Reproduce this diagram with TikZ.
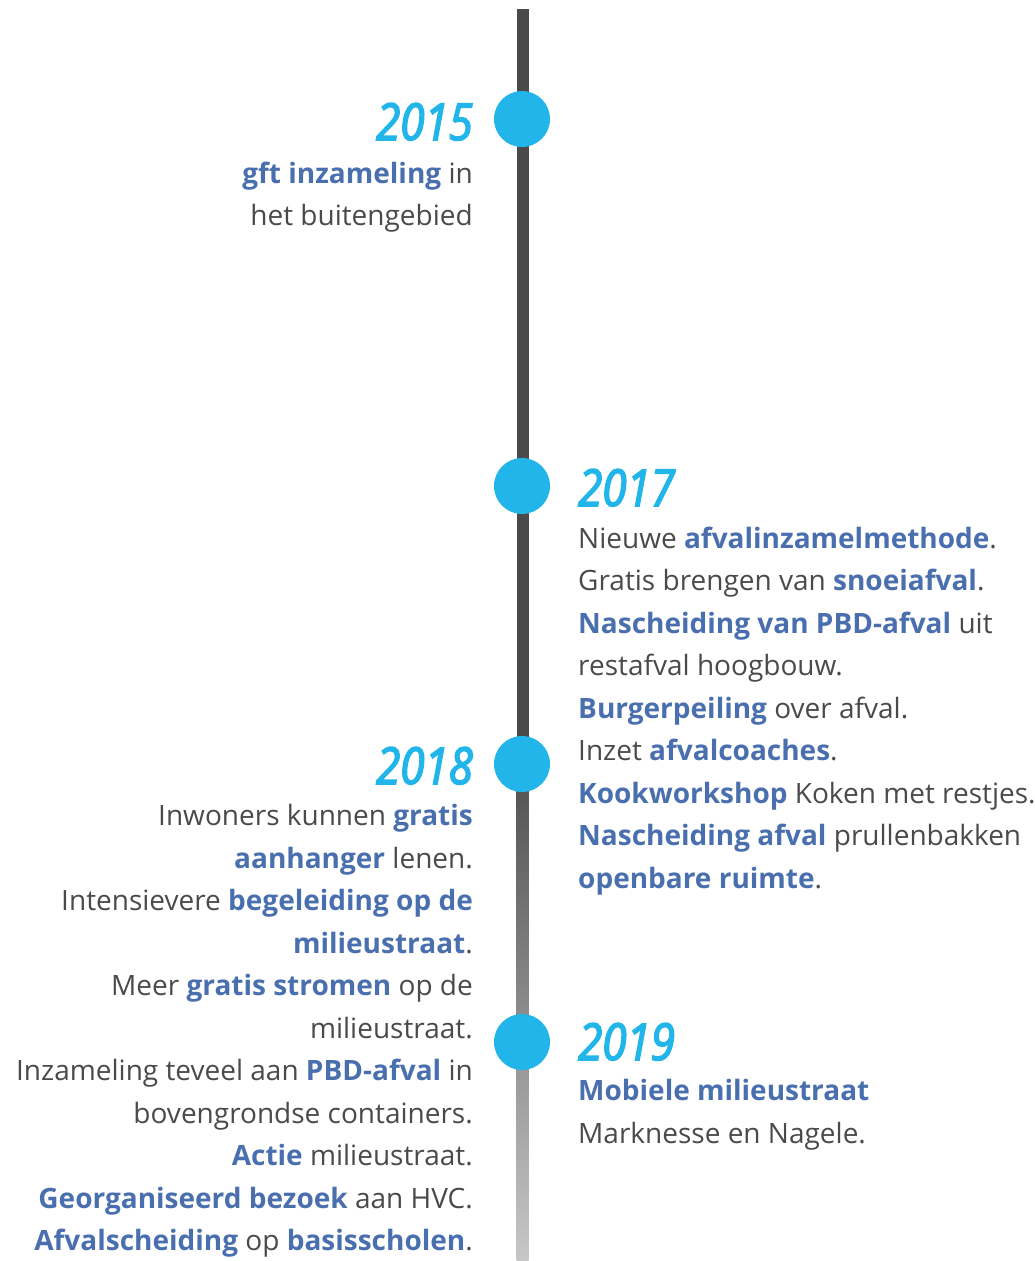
\documentclass[tikz,border=0pt]{standalone}
\usepackage{fontspec}
\setmainfont{Open Sans}
\newfontfamily\yearfont[ItalicFeatures={FakeStretch=0.86,FakeBold=3}]{Open Sans}
\definecolor{yearblue}{HTML}{22B5E9}
\definecolor{keyblue}{HTML}{4A6FAF}
\definecolor{bodygray}{HTML}{4A4A4A}
\newcommand{\kw}[1]{\textcolor{keyblue}{\textbf{#1}}}
\begin{document}
\begin{tikzpicture}[x=1pt,y=-1pt,
    dot/.style={circle,fill=yearblue,minimum size=56pt,inner sep=0pt},
    year/.style={font=\yearfont\fontsize{51}{51}\selectfont\itshape,text=yearblue,inner sep=0pt},
    item/.style={font=\fontsize{28}{42.5}\selectfont,text=bodygray,inner sep=0pt}]
  \useasboundingbox (0,0) rectangle (1034,1261);
  % time line
  \fill[bodygray] (516.5,9) rectangle (528.5,741);
  \shade[top color=bodygray,bottom color=black!22] (516.5,740) rectangle (528.5,1261);
  \foreach \y/\n in {119/d15,486/d17,764/d18,1042/d19}
    \node[dot] (\n) at (522,\y) {};
  % 2015
  \node[year,anchor=base east] (y15) at (473,140) {2015};
  \node[item,align=right,anchor=north east] (t15) at (473,161.5)
    {\kw{gft inzameling} in\\het buitengebied};
  % 2017
  \node[year,anchor=base west] (y17) at (578,506) {2017};
  \node[item,align=left,anchor=north west] (t17) at (578,526.5)
    {Nieuwe \kw{afvalinzamelmethode}.\\Gratis brengen van \kw{snoeiafval}.\\
     \kw{Nascheiding van PBD-afval} uit\\restafval hoogbouw.\\
     \kw{Burgerpeiling} over afval.\\Inzet \kw{afvalcoaches}.\\
     \kw{Kookworkshop} Koken met restjes.\\\kw{Nascheiding afval} prullenbakken\\
     \kw{openbare ruimte}.};
  % 2018
  \node[year,anchor=base east] (y18) at (473,784) {2018};
  \node[item,align=right,anchor=north east] (t18) at (473,804.5)
    {Inwoners kunnen \kw{gratis}\\\kw{aanhanger} lenen.\\
     Intensievere \kw{begeleiding op de}\\\kw{milieustraat}.\\
     Meer \kw{gratis stromen} op de\\milieustraat.\\
     Inzameling teveel aan \kw{PBD-afval} in\\bovengrondse containers.\\
     \kw{Actie} milieustraat.\\\kw{Georganiseerd bezoek} aan HVC.\\
     \kw{Afvalscheiding} op \kw{basisscholen}.};
  % 2019
  \node[year,anchor=base west] (y19) at (578,1060) {2019};
  \node[item,align=left,anchor=north west] (t19) at (578,1079.5)
    {\kw{Mobiele milieustraat}\\Marknesse en Nagele.};
\end{tikzpicture}
\end{document}
